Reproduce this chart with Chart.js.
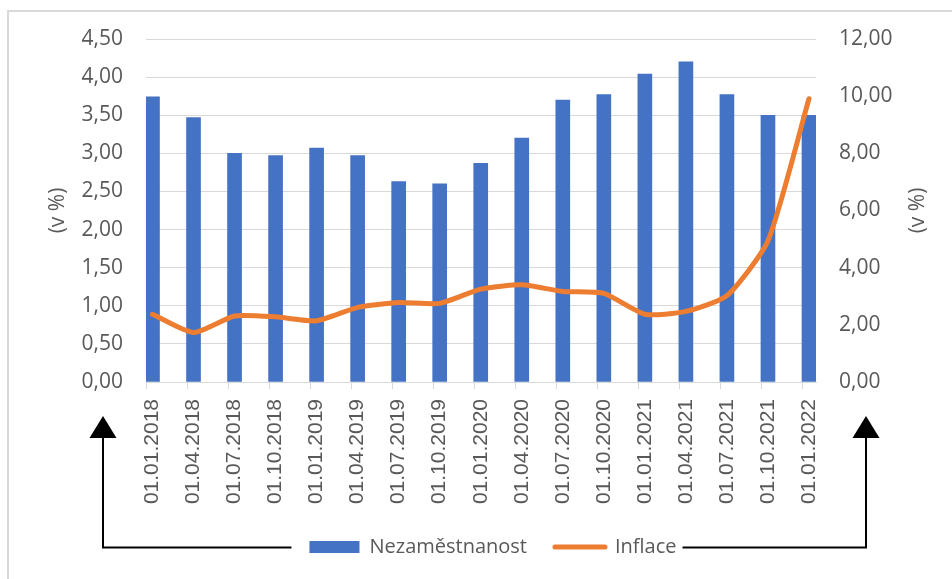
<!DOCTYPE html>
<html>
<head>
<meta charset="utf-8">
<script src="https://cdn.jsdelivr.net/npm/chart.js@4.4.1/dist/chart.umd.min.js"></script>
<style>
  html, body { margin: 0; padding: 0; background: #fff; }
  #wrap { position: relative; width: 952px; height: 579px; overflow: hidden; }
  #frame { position: absolute; left: 7px; top: 10px; width: 960px; height: 590px; border: 2px solid #D9D9D9; box-sizing: border-box; }
  canvas { position: absolute; left: 0; top: 0; }
</style>
</head>
<body>
<div id="wrap">
  <div id="frame"></div>
  <canvas id="myChart" width="952" height="579"></canvas>
</div>
<script>
// quarterly dates
const labels = ['01.01.2018', '01.04.2018', '01.07.2018', '01.10.2018',
                '01.01.2019', '01.04.2019', '01.07.2019', '01.10.2019',
                '01.01.2020', '01.04.2020', '01.07.2020', '01.10.2020',
                '01.01.2021', '01.04.2021', '01.07.2021', '01.10.2021',
                '01.01.2022'];
// left axis, bars
const nezamestnanost = [3.74, 3.47, 3.00, 2.97, 3.07, 2.97, 2.63, 2.60, 2.87,
                        3.20, 3.70, 3.77, 4.04, 4.20, 3.77, 3.50, 3.50];
// right axis, line
const inflace = [2.37, 1.73, 2.31, 2.28, 2.14, 2.61, 2.78, 2.75, 3.25,
                 3.40, 3.17, 3.10, 2.37, 2.47, 3.02, 4.94, 9.91];
const leftTicks = [0, 0.5, 1, 1.5, 2, 2.5, 3, 3.5, 4, 4.5];
const rightTicks = [0, 2, 4, 6, 8, 10, 12];
const axisTitle = '(v %)';

const BLUE = '#4472C4';
const ORANGE = '#ED7D31';
const GREY = '#595959';
const GRID = '#D9D9D9';
const FONT = { family: "'Open Sans', sans-serif", size: 21 };
const XFONT = { family: "'Liberation Sans', Arial, sans-serif", size: 21 };
const LEGFONT = { family: "'Open Sans', sans-serif", size: 20 };

const fmt = v => v.toFixed(2).replace('.', ',');

// tick marks under the axis, right axis title, arrows from the legend
const extras = {
    id: 'extras',
    afterDraw(chart) {
        const ctx = chart.ctx;
        const area = chart.chartArea;
        const xs = chart.scales.x;
        ctx.save();
        ctx.strokeStyle = GRID;
        ctx.lineWidth = 1;
        labels.forEach((l, i) => {
            const px = Math.round(xs.getPixelForValue(i) - 6.5) + 0.5;
            ctx.beginPath();
            ctx.moveTo(px, area.bottom);
            ctx.lineTo(px, area.bottom + 7);
            ctx.stroke();
        });

        // right title reads bottom-to-top like the left one
        ctx.save();
        ctx.translate(area.right + 102, (area.top + area.bottom) / 2);
        ctx.rotate(-Math.PI / 2);
        ctx.fillStyle = GREY;
        ctx.font = "21px 'Open Sans', sans-serif";
        ctx.textAlign = 'center';
        ctx.textBaseline = 'middle';
        ctx.fillText(axisTitle, 0, 0);
        ctx.restore();

        const boxes = chart.legend.legendHitBoxes;
        if (!boxes || !boxes.length) { ctx.restore(); return; }
        const first = boxes[0];
        const last = boxes[boxes.length - 1];
        const ly = Math.round(first.top + first.height / 2) + 0.5;
        const tipY = area.bottom + 34;
        const lx = area.left - 43;
        const rx = area.right + 50;
        ctx.strokeStyle = '#000';
        ctx.fillStyle = '#000';
        ctx.lineWidth = 2;
        ctx.beginPath();
        ctx.moveTo(first.left - 18, ly);
        ctx.lineTo(lx, ly);
        ctx.lineTo(lx, tipY + 15);
        ctx.moveTo(last.left + last.width + 6, ly);
        ctx.lineTo(rx, ly);
        ctx.lineTo(rx, tipY + 15);
        ctx.stroke();
        [lx, rx].forEach(x => {
            ctx.beginPath();
            ctx.moveTo(x, tipY);
            ctx.lineTo(x + 13.5, tipY + 22);
            ctx.lineTo(x - 13.5, tipY + 22);
            ctx.closePath();
            ctx.fill();
        });
        ctx.restore();
    }
};

const ctx = document.getElementById('myChart').getContext('2d');

new Chart(ctx, {
    data: {
        datasets: [{
            type: 'line',
            label: 'Inflace',
            data: inflace.map((v, i) => ({ x: i, y: v })),
            yAxisID: 'y1',
            borderColor: ORANGE,
            backgroundColor: ORANGE,
            borderWidth: 5,
            borderCapStyle: 'round',
            borderJoinStyle: 'round',
            pointRadius: 0,
            tension: 0.2,
            order: 1
        }, {
            type: 'bar',
            label: 'Nezaměstnanost',
            data: nezamestnanost.map((v, i) => ({ x: i, y: v })),
            yAxisID: 'y',
            backgroundColor: BLUE,
            barThickness: 14,
            order: 2
        }]
    },
    options: {
        responsive: false,
        animation: false,
        layout: { padding: { left: 40, right: 6, top: 39, bottom: 12 } },
        plugins: {
            tooltip: { enabled: false },
            legend: {
                position: 'bottom',
                labels: {
                    usePointStyle: true,
                    pointStyleWidth: 50,
                    boxHeight: 12,
                    padding: 28,
                    color: GREY,
                    font: LEGFONT,
                    generateLabels(chart) {
                        const ds = chart.data.datasets;
                        // bar first, then line
                        return [1, 0].map(i => ({
                            text: ds[i].label,
                            datasetIndex: i,
                            fillStyle: ds[i].type === 'bar' ? BLUE : 'transparent',
                            strokeStyle: ds[i].type === 'bar' ? BLUE : ORANGE,
                            lineWidth: ds[i].type === 'bar' ? 0 : 5,
                            lineCap: 'round',
                            pointStyle: ds[i].type === 'bar' ? 'rect' : 'line',
                            fontColor: GREY,
                            hidden: false
                        }));
                    }
                }
            }
        },
        scales: {
            x: {
                type: 'linear',
                offset: false,
                min: -0.158,
                max: 16.171,
                afterBuildTicks: s => { s.ticks = labels.map((l, i) => ({ value: i })); },
                afterFit: s => { s.height = 127; },
                grid: { drawOnChartArea: false, drawTicks: false },
                border: { display: true, color: GRID },
                ticks: {
                    autoSkip: false,
                    minRotation: 90,
                    maxRotation: 90,
                    padding: 17,
                    color: GREY,
                    font: XFONT,
                    callback: v => labels[v]
                }
            },
            y: {
                position: 'left',
                min: 0,
                max: 4.5,
                afterBuildTicks: s => { s.ticks = leftTicks.map(v => ({ value: v })); },
                afterFit: s => { s.width = 106; },
                grid: { color: GRID, drawTicks: false },
                border: { display: false },
                ticks: { padding: 23, color: GREY, font: FONT, callback: v => fmt(v) },
                title: { display: true, text: axisTitle, color: GREY, font: FONT, padding: { top: 5, bottom: 5 } }
            },
            y1: {
                position: 'right',
                min: 0,
                max: 12,
                afterBuildTicks: s => { s.ticks = rightTicks.map(v => ({ value: v })); },
                afterFit: s => { s.width = 130; },
                grid: { drawOnChartArea: false, drawTicks: false },
                border: { display: false },
                ticks: { padding: 23, color: GREY, font: FONT, callback: v => fmt(v) }
            }
        }
    },
    plugins: [extras]
});
</script>
</body>
</html>
